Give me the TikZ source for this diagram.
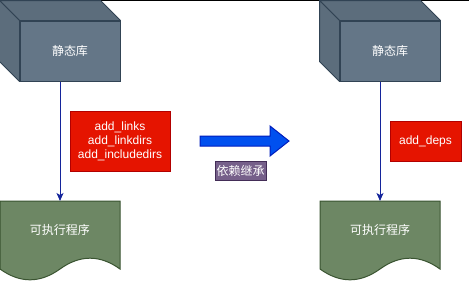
\documentclass[tikz,border=0pt]{standalone}
\usepackage{fontspec}
\setmainfont{Liberation Sans}
\newfontfamily\cjk{Noto Sans CJK SC}
\usetikzlibrary{arrows.meta}

\definecolor{cubefill}{HTML}{647687}
\definecolor{cubeline}{HTML}{314354}
\definecolor{docfill}{HTML}{6D8764}
\definecolor{docline}{HTML}{3A5431}
\definecolor{flagfill}{HTML}{E51400}
\definecolor{flagline}{HTML}{B20000}
\definecolor{bigarrow}{HTML}{0050EF}
\definecolor{bigarrowline}{HTML}{001DBC}
\definecolor{connline}{HTML}{14249B}
\definecolor{tagfill}{HTML}{76608A}
\definecolor{tagline}{HTML}{432D57}

\tikzset{
  cjktext/.style={text=white, font=\cjk\fontsize{12}{14}\selectfont},
  face/.style={fill=cubefill!92!black, draw=cubeline, line width=1pt, line join=round},
  libbox/.style={cjktext, fill=cubefill, draw=cubeline, line width=1pt,
    minimum width=100pt, minimum height=60pt, inner sep=0pt},
  doctext/.style={cjktext, inner sep=0pt},
  flagbox/.style={fill=flagfill, draw=flagline, line width=1pt, text=white,
    font=\fontsize{12}{14}\selectfont, align=center, inner sep=0pt},
  tagbox/.style={cjktext, fill=tagfill, draw=tagline, line width=1pt,
    minimum width=51pt, minimum height=19pt, inner sep=0pt},
  conn/.style={connline, line width=1pt,
    -{Stealth[length=8pt,width=7pt,inset=2pt]}}
}

\begin{document}
\begin{tikzpicture}[x=1pt, y=-1pt]
    \useasboundingbox (0,0) rectangle (469,293);

    % thin rule along the top edge
    \draw[black, line width=1pt] (0,0.5) -- (469,0.5);

    % static library cube and executable, once on each side
    \foreach \x/\n in {0/1, 320/2} {
        \begin{scope}[xshift=\x pt]
            % cube: front face is the node, back faces hang off its corners
            \node (lib\n) [libbox] at (70,51) {静态库};
            \draw[face] (lib\n.north west) -- ++(-20,-20) -- ([shift={(-20,-20)}]lib\n.north east)
                -- (lib\n.north east) -- cycle;
            \draw[face] (lib\n.north west) -- ++(-20,-20) -- ([shift={(-20,-20)}]lib\n.south west)
                -- (lib\n.south west) -- cycle;
            \draw[cubeline, line width=1pt] (lib\n.north west) rectangle (lib\n.south east);

            % document shape with wavy bottom
            \filldraw[fill=docfill, draw=docline, line width=1pt]
                (0,201) -- (120,201) -- (120,269)
                .. controls (100,254.6) and (80,254.6) .. (60,269)
                .. controls (40,283.4) and (20,283.4) .. (0,269) -- cycle;
            \node (exe\n) [doctext] at (60,230) {可执行程序};
            \coordinate (exetop\n) at (60,201);

            % link arrow leaves the middle of the whole cube
            \draw[conn] ([xshift=-10pt]lib\n.south) -- (exetop\n);
        \end{scope}
    }

    % link options on each side
    \node (flags) [flagbox, minimum width=100pt, minimum height=60pt] at (120,141)
        {add\_links\\add\_linkdirs\\add\_includedirs};
    \node (deps) [flagbox, minimum width=71pt, minimum height=40pt] at (425.5,141) {add\_deps};

    % block arrow in the middle
    \filldraw[fill=bigarrow, draw=bigarrowline, line width=1pt, line join=miter]
        (200,136) -- (270,136) -- (270,126) -- (289,141) -- (270,156) -- (270,146) -- (200,146) -- cycle;
    \node (inherit) [tagbox] at (240.5,170.5) {依赖继承};

\end{tikzpicture}
\end{document}
